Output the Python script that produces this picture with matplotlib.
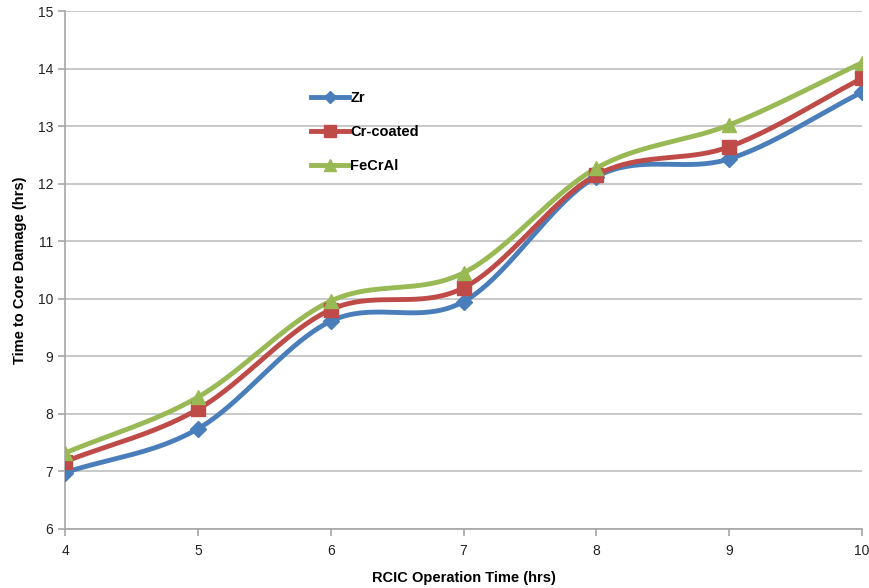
import numpy as np
import matplotlib
matplotlib.use("Agg")
import matplotlib.pyplot as plt

# Data: time to core damage vs RCIC operation time
rcic_hours = [4, 5, 6, 7, 8, 9, 10]
zr = [6.98, 7.74, 9.61, 9.95, 12.12, 12.43, 13.59]
cr_coated = [7.17, 8.08, 9.81, 10.19, 12.15, 12.64, 13.83]
fecral = [7.32, 8.29, 9.96, 10.45, 12.27, 13.02, 14.10]
series_names = ["Zr", "Cr-coated", "FeCrAl"]

colors = ["#4A7EBB", "#BE4B48", "#98B954"]
markers = ["D", "s", "^"]
marker_sizes = [8, 10, 10]

plt.rcParams["font.family"] = ["Liberation Sans", "DejaVu Sans"]


def smooth(x, y, n=40):
    """Cardinal (Catmull-Rom style) spline through the points, like a smoothed line chart."""
    x = np.asarray(x, float)
    y = np.asarray(y, float)
    px = np.concatenate([[2 * x[0] - x[1]], x, [2 * x[-1] - x[-2]]])
    py = np.concatenate([[2 * y[0] - y[1]], y, [2 * y[-1] - y[-2]]])
    xs, ys = [], []
    t = np.linspace(0, 1, n)
    tension = 1 / 6
    for i in range(1, len(px) - 2):
        p0 = np.array([px[i], py[i]])
        p3 = np.array([px[i + 1], py[i + 1]])
        c1 = p0 + tension * (np.array([px[i + 1], py[i + 1]]) - np.array([px[i - 1], py[i - 1]]))
        c2 = p3 - tension * (np.array([px[i + 2], py[i + 2]]) - np.array([px[i], py[i]]))
        b = ((1 - t) ** 3)[:, None] * p0 + (3 * (1 - t) ** 2 * t)[:, None] * c1 \
            + (3 * (1 - t) * t ** 2)[:, None] * c2 + (t ** 3)[:, None] * p3
        xs.extend(b[:, 0])
        ys.extend(b[:, 1])
    return np.array(xs), np.array(ys)


fig = plt.figure(figsize=(8.7, 5.88), dpi=100)
ax = fig.add_axes([65 / 870, 1 - 529 / 588, (862 - 65) / 870, (529 - 11) / 588])

for vals, name, c, m, ms in zip([zr, cr_coated, fecral], series_names, colors, markers, marker_sizes):
    sx, sy = smooth(rcic_hours, vals)
    ax.plot(sx, sy, color=c, lw=3.5, solid_capstyle="round", zorder=3)
    ax.plot(rcic_hours, vals, linestyle="none", marker=m, ms=ms, color=c,
            markeredgecolor=c, zorder=4)
    ax.plot([], [], color=c, lw=3.5, marker=m, ms=ms * 0.8, label=name)

ax.set_xlim(4, 10)
ax.set_ylim(6, 15)
ax.set_xticks(rcic_hours)
ax.set_yticks(range(6, 16))
ax.yaxis.grid(True, color="#BFBFBF", lw=1.2)
ax.set_axisbelow(True)
for s in ["top", "right"]:
    ax.spines[s].set_visible(False)
for s in ["left", "bottom"]:
    ax.spines[s].set_color("#A6A6A6")
    ax.spines[s].set_linewidth(1.2)
ax.tick_params(axis="both", colors="#A6A6A6", length=5, width=1.2, labelsize=10,
               labelcolor="#222222")
ax.tick_params(axis="x", pad=6)

ax.set_xlabel("RCIC Operation Time (hrs)", fontsize=10.5, fontweight="bold", labelpad=9)
ax.set_ylabel("Time to Core Damage (hrs)", fontsize=10.5, fontweight="bold", labelpad=8)

ax.legend(loc="upper left", bbox_to_anchor=(0.292, 0.87), frameon=False,
          handlelength=2.6, labelspacing=1.35, handletextpad=0.1,
          prop={"weight": "bold", "size": 10.5})

fig.savefig("out.png", dpi=100)
